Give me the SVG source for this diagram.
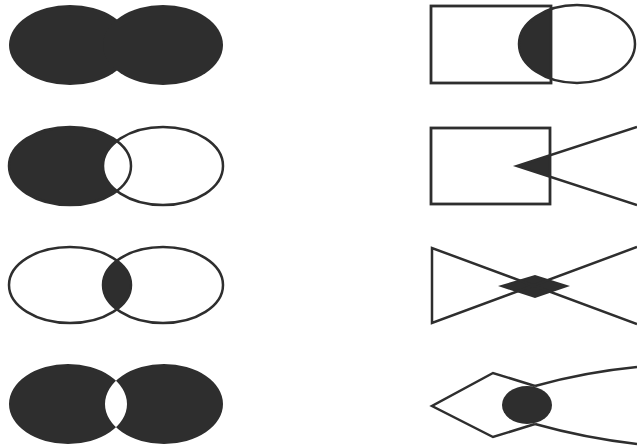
<svg xmlns="http://www.w3.org/2000/svg" width="637" height="446" viewBox="0 0 637 446">
<style>
.f{fill:#2e2e2e;stroke:none}
.o{fill:none;stroke:#2e2e2e;stroke-width:2.5}
.r{fill:none;stroke:#2e2e2e;stroke-width:2.8}
</style>
<defs>
<clipPath id="c3"><ellipse cx="70" cy="285" rx="61" ry="38"/></clipPath>
<clipPath id="cr1"><rect x="431" y="6" width="120" height="77"/></clipPath>
<clipPath id="cr2"><rect x="431" y="128" width="119" height="76"/></clipPath>
</defs>
<rect width="637" height="446" fill="#fff"/>
<g id="union">
<ellipse class="f" cx="70" cy="45" rx="61" ry="40"/>
<ellipse class="f" cx="163" cy="45" rx="60" ry="40"/>
</g>
<g id="difference">
<ellipse class="f" cx="70" cy="166" rx="61" ry="39"/>
<ellipse fill="#fff" cx="163" cy="166" rx="60" ry="39"/>
<ellipse class="o" cx="70" cy="166" rx="61" ry="39"/>
<ellipse class="o" cx="163" cy="166" rx="60" ry="39"/>
</g>
<g id="intersection">
<ellipse class="f" cx="163" cy="285" rx="60" ry="38" clip-path="url(#c3)"/>
<ellipse class="o" cx="70" cy="285" rx="61" ry="38"/>
<ellipse class="o" cx="163" cy="285" rx="60" ry="38"/>
</g>
<g id="xor">
<path class="f" fill-rule="evenodd" d="M9,404 a59,40 0 1,0 118,0 a59,40 0 1,0 -118,0 Z M105,404 a59,40 0 1,0 118,0 a59,40 0 1,0 -118,0 Z"/>
</g>
<g id="rect-ellipse">
<ellipse class="f" cx="577" cy="44" rx="58" ry="39" clip-path="url(#cr1)"/>
<rect class="r" x="431" y="6" width="120" height="77"/>
<ellipse class="o" cx="577" cy="44" rx="58" ry="39"/>
</g>
<g id="rect-wedge">
<polygon class="f" points="517,166 551,155 551,177"/>
<rect class="r" x="431" y="128" width="119" height="76"/>
<polyline class="o" points="637,127 517,166 637,205"/>
</g>
<g id="bowtie">
<polygon class="f" points="498,286 535,275 570,286 535,298"/>
<polyline class="o" points="637,324 432,248 432,323 637,247"/>
</g>
<g id="kite">
<ellipse class="f" cx="527" cy="405" rx="25" ry="19"/>
<polyline class="o" points="535,386 493,373 432,406 493,437 535,424"/>
<path class="o" d="M535,386 Q585,372 637,367 M535,424 Q585,438 637,444"/>
</g>
</svg>
